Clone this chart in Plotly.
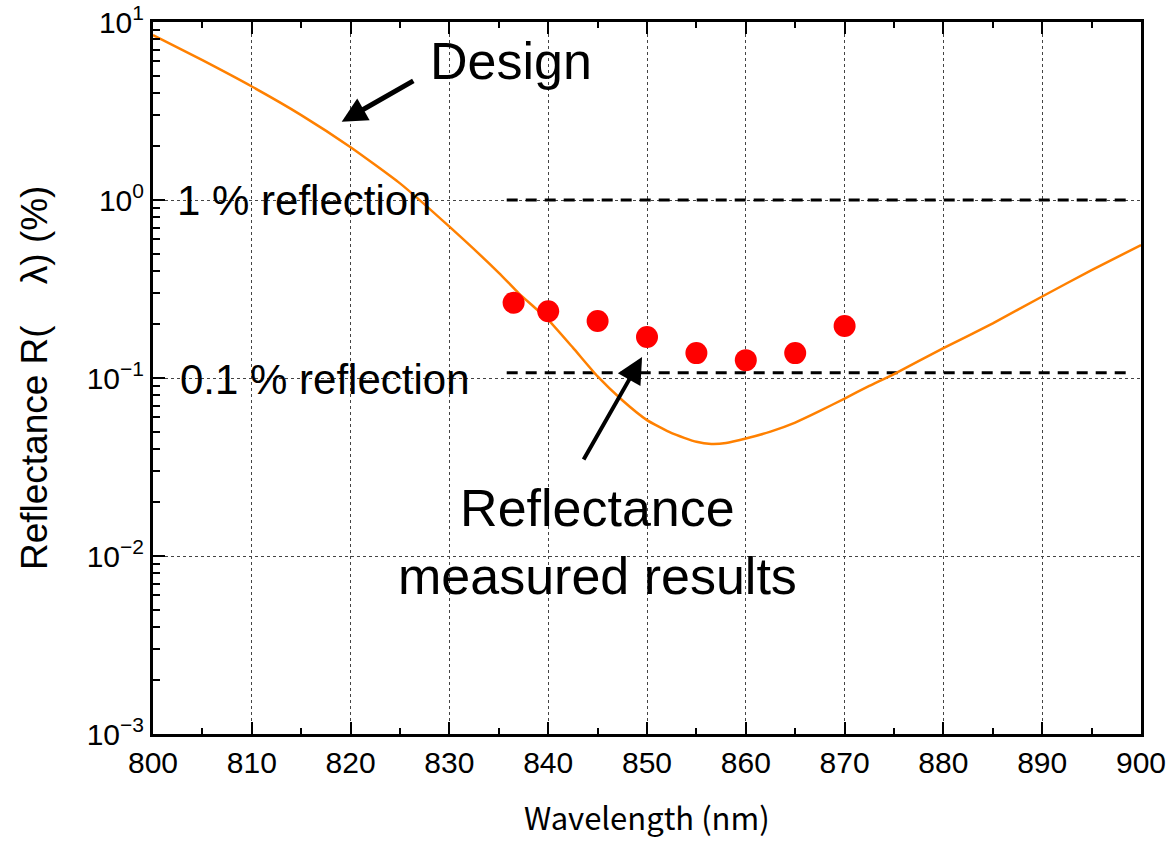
import plotly.graph_objects as go

# Design reflectance curve (nm, %)
design_wl = [800, 805, 810, 815, 820, 825, 830, 835, 837, 840, 842.5, 845, 847.5,
             850, 852.5, 855, 856.5, 858, 860, 862.5, 865, 867.5, 870, 872.5, 875,
             880, 885, 890, 895, 900]
design_r = [8.45, 6.1, 4.34, 3.0, 1.98, 1.24, 0.708, 0.39, 0.30, 0.212, 0.148, 0.102,
            0.075, 0.058, 0.049, 0.0438, 0.0426, 0.0431, 0.0457, 0.0500, 0.0562, 0.0653,
            0.0767, 0.0902, 0.1053, 0.147, 0.203, 0.287, 0.404, 0.558]

# Measured reflectance (nm, %)
meas_wl = [836.5, 840, 845, 850, 855, 860, 865, 870]
meas_r = [0.265, 0.237, 0.209, 0.170, 0.138, 0.126, 0.138, 0.196]

# Reference levels
ref_wl = [835.8, 898.6]
ref_1pct = [1.0, 1.0]
ref_01pct = [0.107, 0.107]

x_ticks = [800, 810, 820, 830, 840, 850, 860, 870, 880, 890, 900]
y_ticks = [1e-3, 1e-2, 1e-1, 1e0, 1e1]
y_ticktext = ["10<sup>−3</sup>", "10<sup>−2</sup>", "10<sup>−1</sup>",
              "10<sup>0</sup>", "10<sup>1</sup>"]

FONT = "Liberation Sans, Arial, sans-serif"

fig = go.Figure()

for yy in (ref_1pct, ref_01pct):
    fig.add_trace(go.Scatter(x=ref_wl, y=yy, mode="lines",
                             line=dict(color="black", width=3, dash="11px,8px"),
                             hoverinfo="skip", showlegend=False))

fig.add_trace(go.Scatter(x=design_wl, y=design_r, mode="lines",
                         line=dict(color="#FF8000", width=2.5, shape="spline", smoothing=0.5),
                         showlegend=False))

fig.add_trace(go.Scatter(x=meas_wl, y=meas_r, mode="markers",
                         marker=dict(color="#FF0000", size=22, line=dict(width=0)),
                         showlegend=False))

fig.update_xaxes(range=[800, 900], tickvals=x_ticks, ticks="inside", ticklen=12,
                 tickwidth=2, tickcolor="black", showline=True, linewidth=3,
                 linecolor="black", mirror="allticks", showgrid=True,
                 gridcolor="#444444", griddash="dot", gridwidth=1,
                 minor=dict(ticks="inside", ticklen=6, tickwidth=2, tickcolor="black",
                            dtick=5, showgrid=False),
                 tickfont=dict(size=30, family=FONT, color="black"),
                 automargin=False, zeroline=False)

fig.update_yaxes(type="log", range=[-3, 1], tickvals=y_ticks, ticktext=y_ticktext,
                 ticks="inside", ticklen=12, tickwidth=2, tickcolor="black",
                 showline=True, linewidth=3, linecolor="black", mirror=True,
                 showgrid=True, gridcolor="#444444", griddash="dot", gridwidth=1,
                 minor=dict(ticks="inside", ticklen=7, tickwidth=2, tickcolor="black",
                            dtick="D1", showgrid=False),
                 tickfont=dict(size=30, family=FONT, color="black"),
                 automargin=False, zeroline=False)

# Axis titles
fig.add_annotation(x=-0.1204, y=0.5, xref="paper", yref="paper",
                   text="Reflectance R(    λ) (%)", textangle=-90, showarrow=False,
                   xanchor="center", yanchor="middle",
                   font=dict(size=37, family=FONT, color="black"))
fig.add_annotation(x=0.5, y=-0.116, xref="paper", yref="paper",
                   text="Wavelength (nm)", showarrow=False,
                   xanchor="center", yanchor="middle",
                   font=dict(size=31, family="Noto Sans CJK JP", color="black"))

# Arrows
fig.add_annotation(x=819.1, y=0.44, ax=826.5, ay=0.674, xref="x", yref="y",
                   axref="x", ayref="y", showarrow=True, arrowhead=2, arrowsize=1,
                   arrowwidth=5, arrowcolor="black", text="")
fig.add_annotation(x=849.5, y=-0.882, ax=843.5, ay=-1.466, xref="x", yref="y",
                   axref="x", ayref="y", showarrow=True, arrowhead=2, arrowsize=1.3,
                   arrowwidth=4, arrowcolor="black", text="")

# Labels
fig.add_annotation(x=827.8, y=0.78, xref="x", yref="y", text="Design", showarrow=False,
                   xanchor="left", yanchor="middle",
                   font=dict(size=52, family=FONT, color="black"))
fig.add_annotation(x=802.2, y=0.0, xref="x", yref="y", text="1 % reflection",
                   showarrow=False, xanchor="left", yanchor="middle",
                   font=dict(size=42, family=FONT, color="black"))
fig.add_annotation(x=802.5, y=-1.01, xref="x", yref="y", text="0.1 % reflection",
                   showarrow=False, xanchor="left", yanchor="middle",
                   font=dict(size=42, family=FONT, color="black"))
fig.add_annotation(x=845.0, y=-1.92, xref="x", yref="y",
                   text="Reflectance<br>measured results", showarrow=False,
                   xanchor="center", yanchor="middle", align="center",
                   font=dict(size=52, family=FONT, color="black"))

fig.update_layout(width=1169, height=843, paper_bgcolor="white", plot_bgcolor="white",
                  margin=dict(l=153, r=28, t=22, b=109), showlegend=False)

fig.write_html("out.html")
